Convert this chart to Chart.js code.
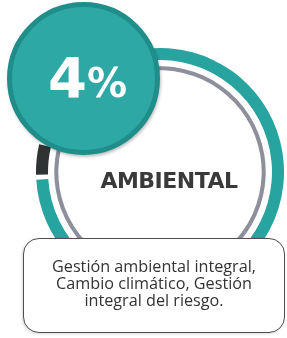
<!DOCTYPE html>
<html>
<head>
<meta charset="utf-8">
<script src="https://cdn.jsdelivr.net/npm/chart.js@4/dist/chart.umd.min.js"></script>
<style>
  html, body { margin: 0; padding: 0; background: #fff; }
  #wrap { position: relative; width: 287px; height: 338px; overflow: hidden; background: #fff; }
  #ring { position: absolute; left: 36px; top: 48px; }
  #badge {
    position: absolute; left: 7px; top: 2px; width: 153px; height: 153px;
    box-sizing: border-box; border-radius: 50%;
    background: #2ea8a4; border: 5px solid #1f8e8a;
    box-shadow: 1px 2px 3px rgba(0,0,0,0.25);
  }
  #pct {
    position: absolute; left: 36px; top: 43px; color: #fff; white-space: nowrap;
    font-family: "DejaVu Sans", sans-serif; font-weight: bold; line-height: 1;
  }
  #pct .num { font-size: 56px; }
  #pct .sym { font-size: 40px; }
  #title {
    position: absolute; left: 0; width: 338px; top: 168px; text-align: center;
    font-family: "DejaVu Sans", sans-serif; font-weight: bold; font-size: 22px;
    letter-spacing: -0.5px; color: #3a3a3a;
  }
  #box {
    position: absolute; left: 23px; top: 238px; width: 262px; height: 95px;
    box-sizing: border-box; border: 1.6px solid #4e4e4e; border-radius: 16px;
    background: #fff; box-shadow: -1px 1px 3px rgba(0,0,0,0.15);
  }
  #desc {
    position: absolute; left: 0; right: 0; top: 19px; text-align: center;
    font-family: "Open Sans", sans-serif; font-size: 16.2px; line-height: 17px;
    color: #333;
  }
</style>
</head>
<body>
<div id="wrap">
  <canvas id="ring" width="248" height="248"></canvas>
  <div id="badge"><div id="pct"><span class="num"></span><span class="sym">%</span></div></div>
  <div id="title"></div>
  <div id="box"><div id="desc"></div></div>
</div>
<script>
// Share of the axis (the dark slice) vs. the rest of the ring
var categories = ["Otros ejes", "Ambiental"];
var shares = [96, 4];
var axisName = "AMBIENTAL";
var descLines = [
  "Gestión ambiental integral,",
  "Cambio climático, Gestión",
  "integral del riesgo."
];

var tealColor = "#27a3a0";
var darkColor = "#2f3333";
var grayColor = "#8e8f9c";

document.querySelector("#pct .num").textContent = shares[1];
document.getElementById("title").textContent = axisName;
document.getElementById("desc").innerHTML = descLines.join("<br>");

var ctx = document.getElementById("ring").getContext("2d");

new Chart(ctx, {
  type: "doughnut",
  data: {
    labels: categories,
    datasets: [
      {
        label: "Participación",
        data: shares,
        backgroundColor: [tealColor, darkColor],
        borderWidth: 0,
        spacing: 3,
        weight: 12
      },
      {
        label: "espacio",
        data: [100],
        backgroundColor: ["rgba(0,0,0,0)"],
        borderWidth: 0,
        weight: 6
      },
      {
        label: "guía",
        data: [100],
        backgroundColor: [grayColor],
        borderWidth: 0,
        weight: 4
      }
    ]
  },
  options: {
    responsive: false,
    animation: false,
    rotation: 283,
    cutout: "82%",
    layout: { padding: 0 },
    plugins: {
      legend: { display: false },
      tooltip: { enabled: false }
    }
  }
});
</script>
</body>
</html>
